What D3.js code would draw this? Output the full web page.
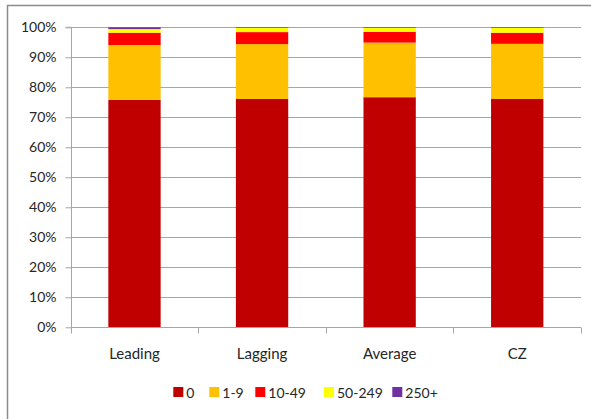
<!DOCTYPE html>
<html><head><meta charset="utf-8">
<script src="https://cdn.jsdelivr.net/npm/d3@7"></script>
<style>body{margin:0;background:#fff}svg{display:block}</style>
</head><body><svg id="c" width="591" height="419"></svg>
<script>
const categories = ["Leading","Lagging","Average","CZ"];
const seriesNames = ["0","1-9","10-49","50-249","250+"];
const s0 = [75.8, 76.1, 76.7, 76.1];
const s1_9 = [18.3, 18.3, 18.2, 18.4];
const s10_49 = [4.1, 4.0, 3.6, 3.7];
const s50_249 = [1.2, 1.4, 1.3, 1.6];
const s250 = [0.6, 0.2, 0.2, 0.2];
const yTicks = [0,10,20,30,40,50,60,70,80,90,100];
const colors = ["#C00000","#FFC000","#FF0000","#FFFF00","#7030A0"];

const seriesVals = [s0, s1_9, s10_49, s50_249, s250];
const rows = categories.map((c,i)=>{const r={cat:c}; seriesNames.forEach((s,j)=>r[s]=seriesVals[j][i]); return r;});
const stack = d3.stack().keys(seriesNames)(rows);

const svg = d3.select("#c");
const font = "Lato, 'Open Sans', sans-serif";
// frame
svg.append("rect").attr("x",7.5).attr("y",5.5).attr("width",600).attr("height",500)
  .attr("fill","none").attr("stroke","#8c8c8c").attr("stroke-width",1.5);

const L=70.7, R=581, T=27.3, B=327.3;
const x = d3.scaleBand().domain(categories).range([L,R]).paddingInner(0.59).paddingOuter(0.295);
const y = d3.scaleLinear().domain([0,100]).range([B,T]);

// gridlines
svg.append("g").selectAll("line").data(yTicks.filter(d=>d>0)).join("line")
  .attr("x1",L).attr("x2",R).attr("y1",d=>Math.round(y(d))+0.5).attr("y2",d=>Math.round(y(d))+0.5)
  .attr("stroke","#a6a6a6").attr("stroke-width",1);

// bars
svg.append("g").selectAll("g").data(stack).join("g").attr("fill",(d,i)=>colors[i])
  .selectAll("rect").data(d=>d).join("rect")
  .attr("x",d=>x(d.data.cat)).attr("width",x.bandwidth())
  .attr("y",d=>y(d[1])).attr("height",d=>y(d[0])-y(d[1]));

// y axis
const ya = svg.append("g").attr("transform",`translate(${Math.round(L)+0.5},0)`)
  .call(d3.axisLeft(y).tickValues(yTicks).tickFormat(d=>d+"%").tickSize(6).tickPadding(9));
ya.select(".domain").attr("stroke","#a6a6a6").attr("d",`M-6,${y(100)}H0V${y(0)}`);
ya.selectAll(".tick line").attr("stroke","#a6a6a6");
ya.selectAll("text").attr("font-family",font).attr("font-size",14).attr("fill","#262626");

// x axis
const xa = svg.append("g").attr("transform",`translate(0,${Math.round(B)+0.5})`);
xa.append("line").attr("x1",L).attr("x2",R).attr("stroke","#a6a6a6");
const bounds = [L].concat(categories.map(c=>x(c)+x.bandwidth()/2+x.step()/2));
xa.selectAll("line.t").data(bounds).join("line").attr("class","t")
  .attr("x1",d=>Math.round(d)+0.5).attr("x2",d=>Math.round(d)+0.5).attr("y1",0).attr("y2",6).attr("stroke","#a6a6a6");
xa.selectAll("text").data(categories).join("text")
  .attr("x",d=>x(d)+x.bandwidth()/2).attr("y",31).attr("text-anchor","middle")
  .attr("font-family",font).attr("font-size",15).attr("fill","#262626").text(d=>d);

// legend
const legX = [173.3, 209.3, 255.3, 324, 392.3];
const lg = svg.append("g").selectAll("g").data(seriesNames).join("g")
  .attr("transform",(d,i)=>`translate(${legX[i]},387)`);
lg.append("rect").attr("width",10).attr("height",10).attr("fill",(d,i)=>colors[i]);
lg.append("text").attr("x",13).attr("y",10.5).attr("font-family",font).attr("font-size",14)
  .attr("fill","#262626").text(d=>d);
</script></body></html>
